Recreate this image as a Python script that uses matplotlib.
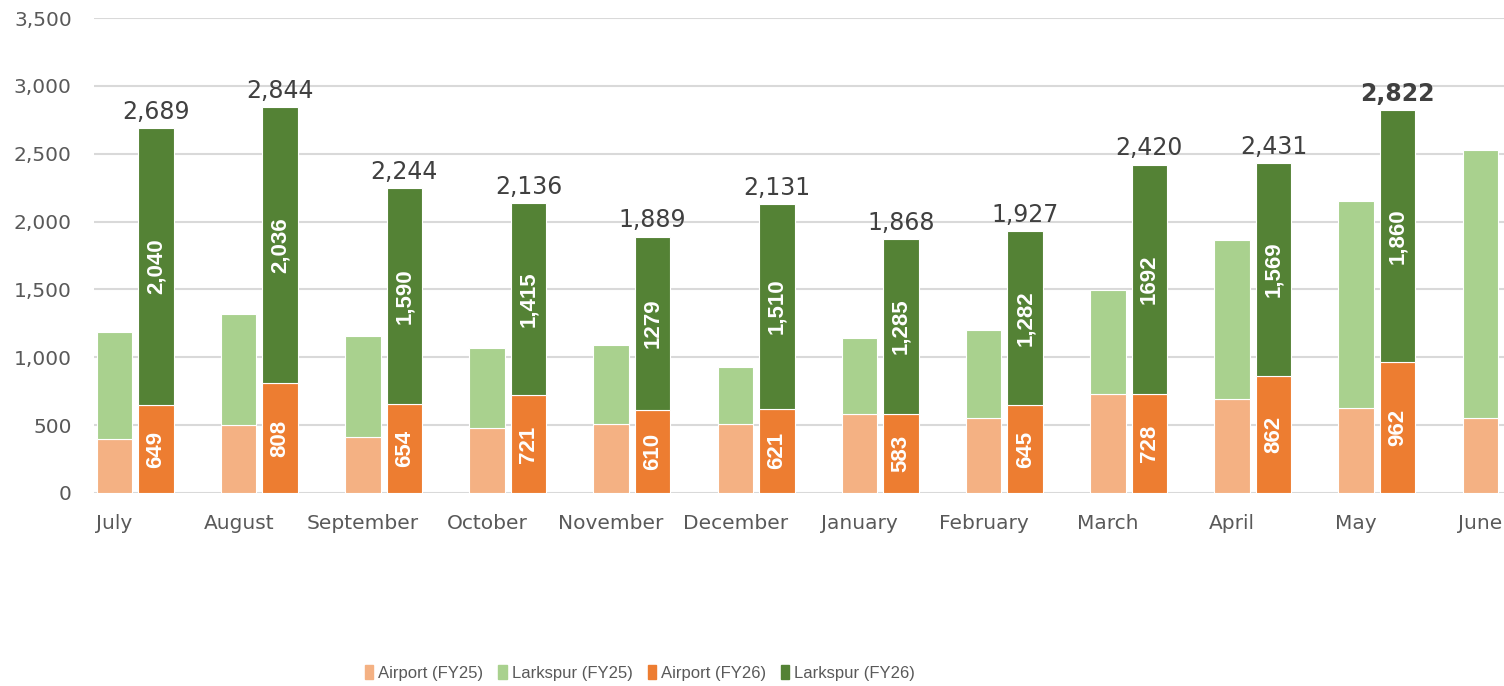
# 月度客流对比：FY25 与 FY26 堆叠柱状图
import matplotlib
matplotlib.use("Agg")
import matplotlib.pyplot as plt
import numpy as np
from matplotlib.patches import Rectangle

months = ["July", "August", "September", "October", "November", "December",
          "January", "February", "March", "April", "May", "June"]

# FY25
airport_fy25 = [395, 500, 410, 481, 509, 509, 585, 556, 726, 692, 625, 551]
larkspur_fy25 = [790, 821, 746, 589, 578, 422, 559, 644, 770, 1170, 1528, 1975]

# FY26（图上有标注，六月暂无数据）
airport_fy26 = [649, 808, 654, 721, 610, 621, 583, 645, 728, 862, 962]
larkspur_fy26 = [2040, 2036, 1590, 1415, 1279, 1510, 1285, 1282, 1692, 1569, 1860]
# 柱内标签的原始显示格式（部分没有千分位逗号）
larkspur_fy26_text = ["2,040", "2,036", "1,590", "1,415", "1279", "1,510",
                      "1,285", "1,282", "1692", "1,569", "1,860"]

c_air25, c_lark25 = "#F4B183", "#A9D18E"
c_air26, c_lark26 = "#ED7D31", "#548235"
grey_txt = "#595959"

fig = plt.figure(figsize=(15.04, 6.86), dpi=100)
ax = fig.add_axes([94 / 1504, 1 - 493 / 686, 1 - 94 / 1504, (493 - 18) / 686])

x = np.arange(len(months))
w = 0.286
off = 0.334
x26 = x[:len(airport_fy26)] + off

ax.bar(x, airport_fy25, w, color=c_air25, edgecolor="white", linewidth=0.8, zorder=3)
ax.bar(x, larkspur_fy25, w, bottom=airport_fy25, color=c_lark25,
       edgecolor="white", linewidth=0.8, zorder=3)
ax.bar(x26, airport_fy26, w, color=c_air26, edgecolor="white", linewidth=0.8, zorder=3)
ax.bar(x26, larkspur_fy26, w, bottom=airport_fy26, color=c_lark26,
       edgecolor="white", linewidth=0.8, zorder=3)

# 柱内数字（竖排、白色加粗）+ 柱顶合计
for i, xi in enumerate(x26):
    a = airport_fy26[i]
    l = larkspur_fy26[i]
    ax.text(xi, a / 2, f"{a}", rotation=90, ha="center", va="center",
            color="white", fontsize=16, fontweight="bold",
            family="Liberation Sans", zorder=4)
    ax.text(xi, a + l / 2, larkspur_fy26_text[i], rotation=90, ha="center",
            va="center", color="white", fontsize=16, fontweight="bold",
            family="Liberation Sans", zorder=4)
    total = a + l
    ax.annotate(f"{total:,}", (xi, total), xytext=(0, 3), textcoords="offset points",
                ha="center", va="bottom", fontsize=17, color="#404040",
                fontweight="bold" if i == len(x26) - 1 else "normal", zorder=4)

ax.set_ylim(0, 3500)
ax.set_xlim(-0.165, 11.19)
ax.set_yticks(np.arange(0, 3501, 500))
ax.yaxis.set_major_formatter(matplotlib.ticker.FuncFormatter(lambda v, p: f"{int(v):,}"))
ax.set_xticks(x)
ax.set_xticklabels(months)
ax.tick_params(axis="both", length=0, labelsize=14.5, colors=grey_txt)
ax.tick_params(axis="y", pad=16)
ax.tick_params(axis="x", pad=15)
ax.grid(axis="y", color="#D9D9D9", linewidth=1.5, zorder=0)
for s in ax.spines.values():
    s.set_visible(False)

# 图例
handles = [Rectangle((0, 0), 1, 1, color=c) for c in (c_air25, c_lark25, c_air26, c_lark26)]
labels = ["Airport (FY25)", "Larkspur (FY25)", "Airport (FY26)", "Larkspur (FY26)"]
fig.legend(handles, labels, loc="center", bbox_to_anchor=(640 / 1504, 1 - 673 / 686),
           ncol=4, frameon=False, prop={"family": "Liberation Sans", "size": 12},
           handlelength=0.5, handleheight=0.9, handletextpad=0.3,
           columnspacing=0.9, labelcolor=grey_txt)

fig.savefig("out.png", dpi=100)
